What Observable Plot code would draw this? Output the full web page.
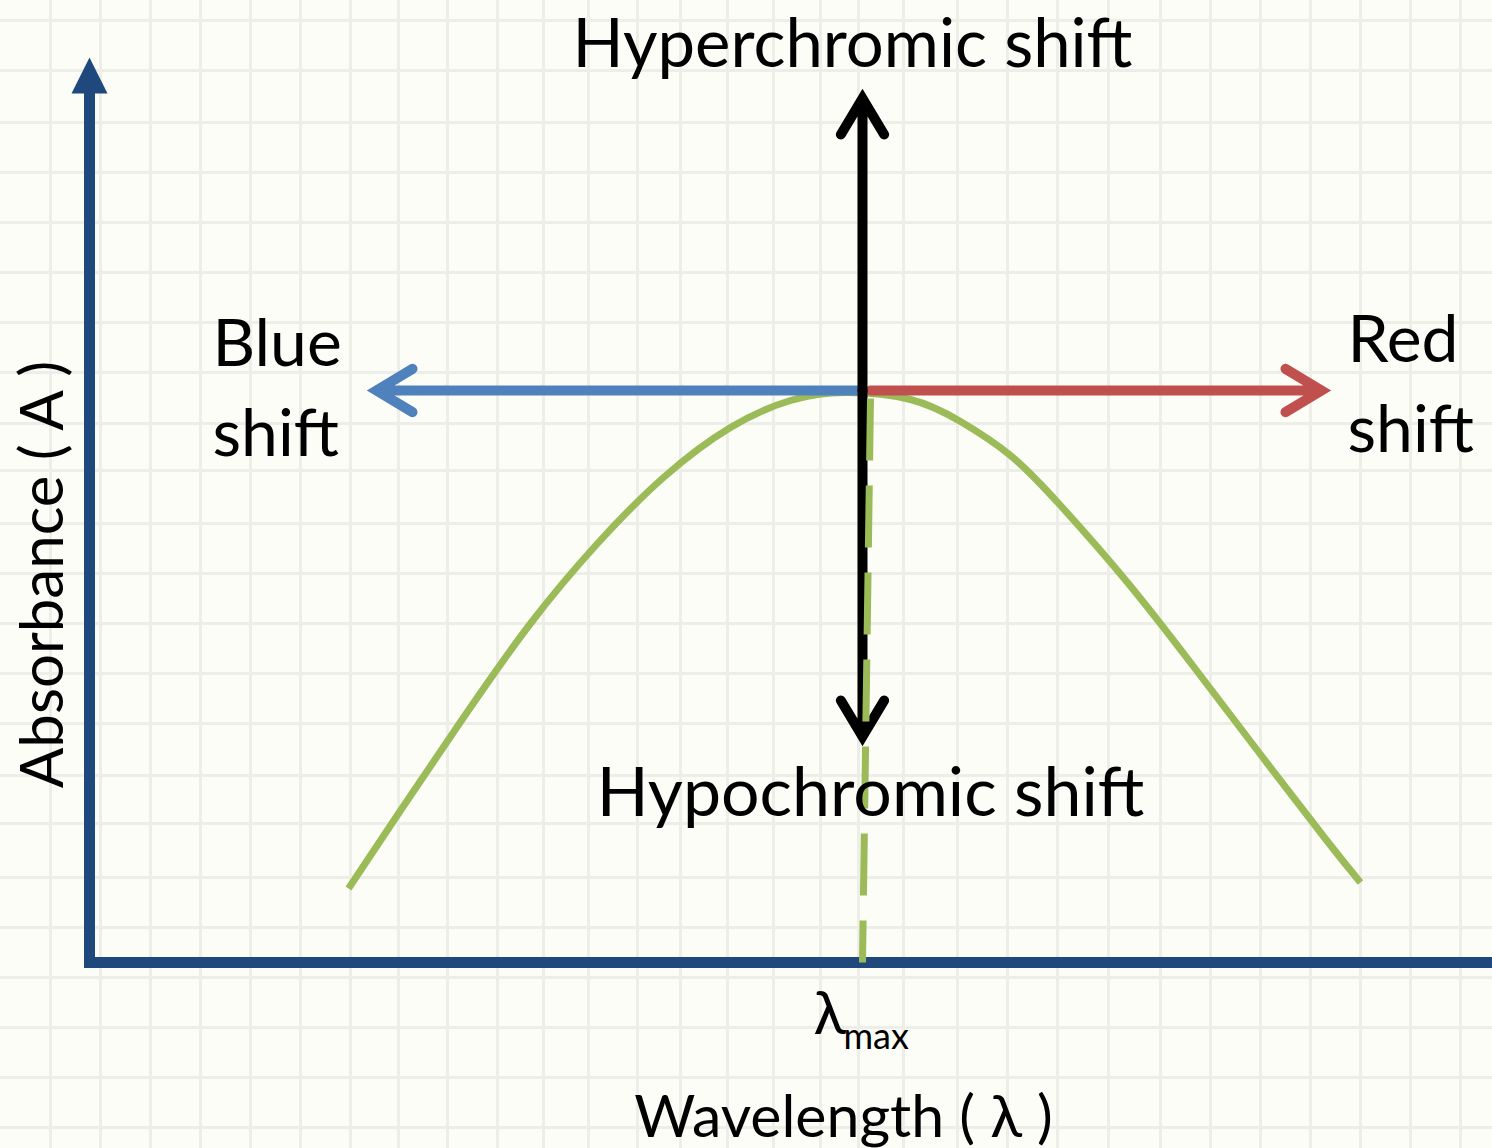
<!DOCTYPE html>
<html>
<head>
<meta charset="utf-8">
<script src="https://cdn.jsdelivr.net/npm/d3@7"></script>
<script src="https://cdn.jsdelivr.net/npm/@observablehq/plot@0.6"></script>
<style>
  html, body { margin: 0; padding: 0; background: #fdfdf8; }
  #chart svg { display: block; }
</style>
</head>
<body>
<div id="chart"></div>
<script>
// Units: x = wavelength position, y = absorbance, origin at the axes' corner.
const gridX = [-40,10,60,110,160,210,260,308,357,407,453,498,547,590,637,683,730,768,813,867,917,967,1018,1070,1120,1170,1220,1270,1320,1370];
const gridY = [942,892,840,790,740,690,640,590,539,492,439,389,339,289,239,187,139,85,35,-15,-65,-115,-165];

// Absorption band (green curve)
const bandX = [258,310,373,440,507,573,640,700,755,820,870,920,970,1037,1103,1170,1237,1270];
const bandY = [74,152,245,339,419,485,535,562,570,563,541,507,457,380,296,208,121,80];

const lambdaMax = 772;      // wavelength of the peak
const peakA = 572;          // absorbance level of the shift arrows
const hyperTop = 864;       // tip of hyperchromic arrow
const hypoBottom = 226;     // tip of hypochromic arrow
const blueTip = 286;        // tip of blue-shift arrow
const redTip = 1231;        // tip of red-shift arrow
const axisTop = 905;        // tip of absorbance axis
const axisRight = 1402;     // end of wavelength axis

const labelsMiddle = [
  {text: "Hyperchromic shift", x: 762, y: 896, size: 67},
  {text: "Hypochromic shift", x: 780, y: 147, size: 68},
  {text: "Wavelength ( λ )", x: 753, y: -174, size: 59}
];
const labelsStart = [
  {text: "Blue", x: 122, y: 597, size: 66},
  {text: "shift", x: 122, y: 507, size: 66},
  {text: "Red", x: 1257, y: 601, size: 66},
  {text: "shift", x: 1257, y: 511, size: 66},
  {text: "λ", x: 723, y: -71, size: 60},
  {text: "max", x: 753, y: -86, size: 36}
];
const yLabel = {text: "Absorbance ( A )", x: -28, y: 388, size: 60};

const band = bandX.map((x, i) => ({x, y: bandY[i]}));

const AXIS = "#1f497d", GREEN = "#9bbb59", BLUE = "#4f81bd", RED = "#c0504d";
const FONT = "Lato, 'Open Sans', sans-serif";

const triangle = {
  draw(context, size) {
    const r = Math.sqrt(size / Math.PI);
    context.moveTo(0, 0);
    context.lineTo(r, 2 * r);
    context.lineTo(-r, 2 * r);
    context.closePath();
  }
};

const arrowOpts = {strokeWidth: 10, headLength: 6.3, headAngle: 62, strokeLinecap: "round", strokeLinejoin: "miter", strokeMiterlimit: 10};
const link = {x1: "x1", y1: "y1", x2: "x2", y2: "y2"};

const chart = Plot.plot({
  width: 1492,
  height: 1148,
  margin: 0,
  x: {domain: [-90, 1402], axis: null},
  y: {domain: [-186, 962], axis: null},
  style: {background: "#fdfdf8", fontFamily: FONT},
  marks: [
    Plot.ruleX(gridX, {stroke: "#eeeee9", strokeWidth: 3}),
    Plot.ruleY(gridY, {stroke: "#eeeee9", strokeWidth: 3}),
    // axes
    Plot.ruleX([-1], {y1: -6, y2: axisTop - 34, stroke: AXIS, strokeWidth: 11}),
    Plot.dot([{x: -1, y: axisTop}], {x: "x", y: "y", symbol: triangle, r: 18, fill: AXIS, stroke: "none"}),
    Plot.ruleY([0], {x1: -6, x2: axisRight, stroke: AXIS, strokeWidth: 11}),
    // absorption band
    Plot.line(band, {x: "x", y: "y", curve: "natural", stroke: GREEN, strokeWidth: 7, strokeLinecap: "butt"}),
    // blue / red shift arrows
    Plot.arrow([{x1: lambdaMax, y1: peakA, x2: blueTip, y2: peakA}], {...link, stroke: BLUE, ...arrowOpts}),
    Plot.arrow([{x1: lambdaMax + 8, y1: peakA, x2: redTip, y2: peakA}], {...link, stroke: RED, ...arrowOpts}),
    // hyper / hypo chromic arrows
    Plot.arrow([{x1: lambdaMax, y1: peakA, x2: lambdaMax, y2: hyperTop}], {...link, stroke: "black", ...arrowOpts}),
    Plot.arrow([{x1: lambdaMax, y1: peakA, x2: lambdaMax, y2: hypoBottom}], {...link, stroke: "black", ...arrowOpts}),
    // lambda max dashed drop line
    Plot.link([{x1: lambdaMax + 8, y1: peakA - 8, x2: lambdaMax, y2: 0}], {...link, stroke: GREEN, strokeWidth: 7, strokeDasharray: "62,25"}),
    // labels
    Plot.text(labelsMiddle, {x: "x", y: "y", text: "text", textAnchor: "middle", fontSize: (d) => d.size, lineAnchor: "bottom", fill: "black"}),
    Plot.text(labelsStart, {x: "x", y: "y", text: "text", textAnchor: "start", fontSize: (d) => d.size, lineAnchor: "bottom", fill: "black"}),
    Plot.text([yLabel], {x: "x", y: "y", text: "text", rotate: -90, fontSize: yLabel.size, lineAnchor: "bottom", textAnchor: "middle", fill: "black"})
  ]
});
document.getElementById("chart").appendChild(chart);
</script>
</body>
</html>
